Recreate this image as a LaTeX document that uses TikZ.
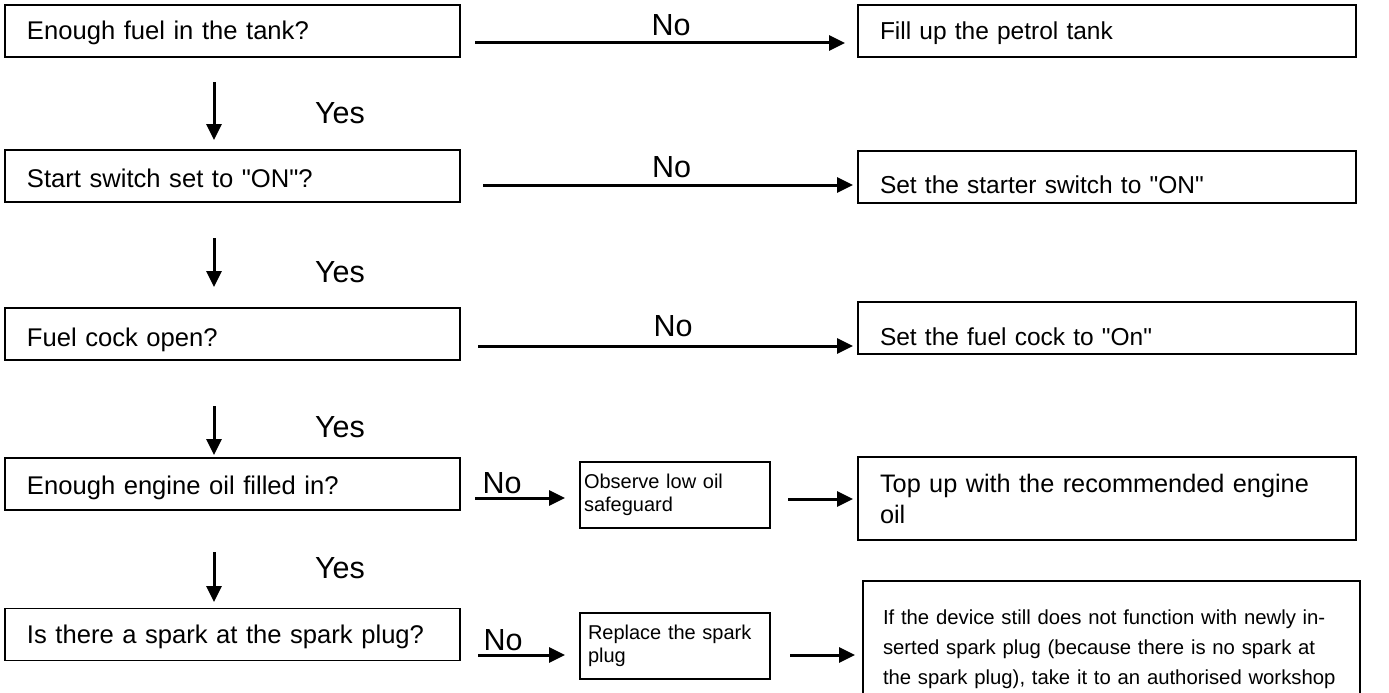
\documentclass[tikz,border=0pt]{standalone}
\usepackage{fontspec}
\newfontfamily\arialish{Liberation Sans}
\usetikzlibrary{arrows.meta,positioning}

\begin{document}
\begin{tikzpicture}[x=1pt,y=-1pt,
    box/.style={draw, line width=1.8pt, rectangle, inner xsep=22pt, inner ysep=0pt, align=left, font=\arialish\fontsize{24.5}{30}\selectfont},
    lbox/.style={box, text width=411pt, minimum height=52pt, text depth=0pt, font=\arialish\fontsize{25.6}{30}\selectfont},
    rbox/.style={box, text width=454pt, minimum height=52pt},
    mbox/.style={box, inner xsep=8pt, text width=174pt, minimum height=66pt, font=\arialish\fontsize{20}{23}\selectfont},
    arr/.style={-{Triangle[length=16pt,width=15pt]}, line width=3pt},
    lbl/.style={font=\arialish\fontsize{30.5}{30}\selectfont, inner sep=0pt}]
    \useasboundingbox (0,0) rectangle (1389,693);
    % questions
    \node [lbox, text height=18pt] (q1) at (232.5,31) {Enough fuel in the tank?};
    \node [lbox, text height=22pt] (q2) at (232.5,176) {Start switch set to "ON"?};
    \node [lbox, text height=24pt] (q3) at (232.5,334) {Fuel cock open?};
    \node [lbox, text height=20pt] (q4) at (232.5,484) {Enough engine oil filled in?};
    \node [lbox, text height=17pt] (q5) at (232.5,634.5) {Is there a spark at the spark plug?};
    % remedies
    \node [rbox, text depth=0pt, text height=18pt] (a1) at (1107,31) {Fill up the petrol tank};
    \node [rbox, text depth=0pt, text height=32pt] (a2) at (1107,177) {Set the starter switch to "ON"};
    \node [rbox, text depth=0pt, text height=34pt] (a3) at (1107,328) {Set the fuel cock to "On"};
    \node [rbox, minimum height=83pt, font=\arialish\fontsize{25.3}{31}\selectfont] (a4) at (1107,498.5) {Top up with the recommended engine\\oil};
    \node [box, inner xsep=20pt, text width=457pt, minimum height=136pt, font=\arialish\fontsize{20.3}{30}\selectfont] (a5) at (1111.5,649) {If the device still does not function with newly in-\\serted spark plug (because there is no spark at\\the spark plug), take it to an authorised workshop};
    \node [mbox, inner xsep=4pt, text width=182pt] (m4) at (675,495) {Observe low oil\\safeguard};
    \node [mbox] (m5) at (675,646) {Replace the spark\\plug};
    % "No" branches
    \coordinate (n1s) at (475,43);  \coordinate (n1e) at (845,43);
    \coordinate (n2s) at (483,185); \coordinate (n2e) at (853,185);
    \coordinate (n3s) at (478,346); \coordinate (n3e) at (853,346);
    \coordinate (n4s) at (475,498); \coordinate (n4e) at (565,498);
    \coordinate (n5s) at (478,655); \coordinate (n5e) at (565,655);
    \draw [arr] (n1s) -- (n1e) node [lbl, pos=0.53, above=6pt] (no1) {No};
    \draw [arr] (n2s) -- (n2e) node [lbl, pos=0.51, above=6pt] (no2) {No};
    \draw [arr] (n3s) -- (n3e) node [lbl, pos=0.52, above=8pt] (no3) {No};
    \draw [arr] (n4s) -- (n4e) node [lbl, pos=0, above right=3pt and 6pt] (no4) {No};
    \draw [arr] (n5s) -- (n5e) node [lbl, pos=0, above right=3pt and 4pt] (no5) {No};
    \coordinate (o4s) at (788,499); \coordinate (o4e) at (853,499);
    \coordinate (o5s) at (790,655); \coordinate (o5e) at (855,655);
    \draw [arr] (o4s) -- (o4e);
    \draw [arr] (o5s) -- (o5e);
    % "Yes" steps
    \coordinate (y1s) at (214,82);  \coordinate (y1e) at (214,140);
    \coordinate (y2s) at (214,238); \coordinate (y2e) at (214,287);
    \coordinate (y3s) at (214,406); \coordinate (y3e) at (214,455);
    \coordinate (y4s) at (214,552); \coordinate (y4e) at (214,602);
    \draw [arr] (y1s) -- (y1e);
    \draw [arr] (y2s) -- (y2e);
    \draw [arr] (y3s) -- (y3e);
    \draw [arr] (y4s) -- (y4e);
    \node [lbl] (yes1) at (340,113) {Yes};
    \node [lbl] (yes2) at (340,272) {Yes};
    \node [lbl] (yes3) at (340,427) {Yes};
    \node [lbl] (yes4) at (340,568) {Yes};
\end{tikzpicture}
\end{document}
